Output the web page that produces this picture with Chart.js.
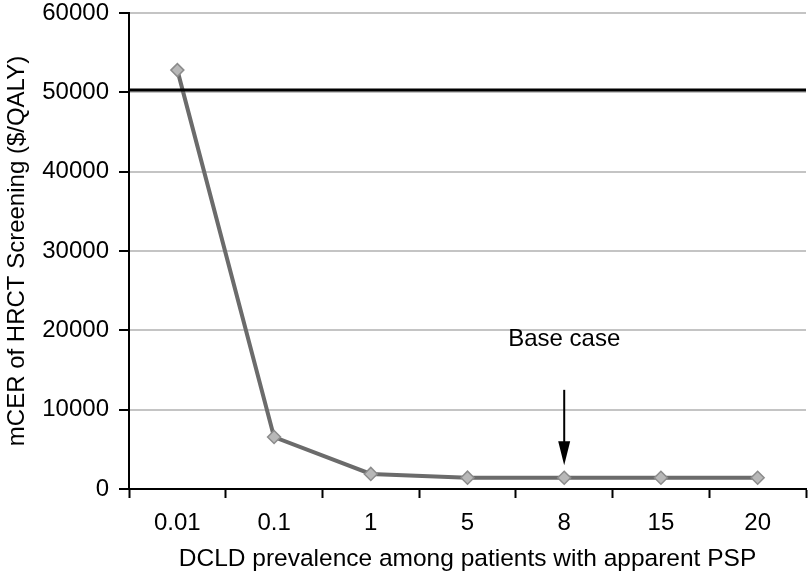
<!DOCTYPE html>
<html lang="en">
  <head>
    <meta charset="UTF-8" />
    <title>mCER of HRCT screening</title>
    <script src="https://cdn.jsdelivr.net/npm/chart.js"></script>
    <style>
      html, body { margin: 0; padding: 0; background: #fff; }
      .canvas { width: 808px; height: 574px; }
    </style>
  </head>
  <body>
    <div class="canvas">
      <canvas id="myChart"></canvas>
    </div>
    <script>
      // data
      let prevalence = ["0.01", "0.1", "1", "5", "8", "15", "20"];
      let mcer = [52800, 6550, 1900, 1430, 1420, 1420, 1420];
      let yTicks = [0, 10000, 20000, 30000, 40000, 50000, 60000];
      let threshold = 50300;
      let baseCase = "8";
      let baseCaseLabel = "Base case";

      const font = "'Liberation Sans', Arial, sans-serif";

      // threshold line + base case arrow, placed with the chart's scales
      const extras = {
        id: "extras",
        afterDatasetsDraw(chart) {
          const { ctx, chartArea, scales } = chart;
          const x = scales.x, y = scales.y;

          const ty = y.getPixelForValue(threshold);
          ctx.save();
          ctx.strokeStyle = "#000";
          ctx.lineWidth = 3;
          ctx.beginPath();
          ctx.moveTo(chartArea.left, ty);
          ctx.lineTo(chartArea.right, ty);
          ctx.stroke();

          const i = prevalence.indexOf(baseCase);
          const ax = x.getPixelForValue(i);
          const top = y.getPixelForValue(12500);
          const tip = y.getPixelForValue(3000);
          ctx.lineWidth = 2;
          ctx.beginPath();
          ctx.moveTo(ax, top);
          ctx.lineTo(ax, tip - 20);
          ctx.stroke();
          ctx.fillStyle = "#000";
          ctx.beginPath();
          ctx.moveTo(ax - 6, tip - 24);
          ctx.lineTo(ax + 6, tip - 24);
          ctx.lineTo(ax, tip);
          ctx.closePath();
          ctx.fill();

          ctx.font = "24px " + font;
          ctx.textAlign = "center";
          ctx.textBaseline = "middle";
          ctx.fillText(baseCaseLabel, ax, y.getPixelForValue(18900));
          ctx.restore();
        },
      };

      new Chart(document.getElementById("myChart"), {
        type: "line",
        data: {
          labels: prevalence,
          datasets: [
            {
              label: "mCER",
              data: mcer,
              borderColor: "#6b6b6b",
              borderWidth: 4,
              pointStyle: "rectRot",
              pointRadius: 6.5,
              pointBackgroundColor: "#b8b8b8",
              pointBorderColor: "#8c8c8c",
              pointBorderWidth: 1.5,
              tension: 0,
            },
          ],
        },
        options: {
          responsive: true,
          maintainAspectRatio: false,
          animation: false,
          layout: { autoPadding: false, padding: { top: 13, right: 2, left: 0, bottom: 0 } },
          plugins: { legend: { display: false }, tooltip: { enabled: false } },
          scales: {
            x: {
              offset: true,
              grid: {
                offset: true,
                drawOnChartArea: false,
                tickLength: 9,
                tickColor: "#000",
                tickWidth: 2,
              },
              border: { color: "#000", width: 2 },
              ticks: { color: "#000", font: { family: font, size: 24 }, padding: 11 },
              title: {
                display: true,
                text: "DCLD prevalence among patients with apparent PSP",
                color: "#000",
                font: { family: font, size: 24.5 },
                padding: { top: 0, bottom: 0 },
              },
              afterFit(scale) {
                scale.height = 85;
                scale.paddingLeft = 0;
                scale.paddingRight = 0;
              },
            },
            y: {
              min: 0,
              max: 60000,
              afterBuildTicks(scale) {
                scale.ticks = yTicks.map((v) => ({ value: v }));
              },
              grid: {
                color: "#c4c4c4",
                lineWidth: 2,
                tickLength: 10,
                tickColor: "#000",
                tickWidth: 2,
              },
              border: { color: "#000", width: 2 },
              ticks: {
                color: "#000",
                font: { family: font, size: 24 },
                padding: 10,
                callback: (v) => String(v),
              },
              title: {
                display: true,
                text: "mCER of HRCT Screening ($/QALY)",
                color: "#000",
                font: { family: font, size: 24 },
                padding: { top: 3, bottom: 0 },
              },
              afterFit(scale) {
                scale.width = 129;
                scale.paddingTop = 0;
                scale.paddingBottom = 0;
              },
            },
          },
        },
        plugins: [extras],
      });
    </script>
  </body>
</html>
